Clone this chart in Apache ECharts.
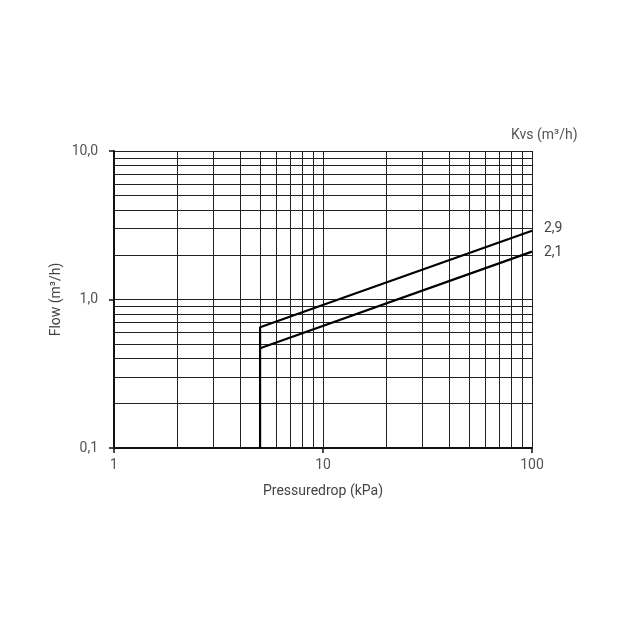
<!DOCTYPE html>
<html><head><meta charset="utf-8">
<script src="https://cdn.jsdelivr.net/npm/echarts@6/dist/echarts.min.js"></script>
<style>html,body{margin:0;padding:0;background:#fff}#c{width:640px;height:640px}</style>
</head><body><div id="c"></div>
<script>
const xMinorGrid = [2,3,4,5,6,7,8,9,20,30,40,50,60,70,80,90];
const yMinorGrid = [0.2,0.3,0.4,0.5,0.6,0.7,0.8,0.9,2,3,4,5,6,7,8,9];
const kvs29 = [[5,0.1],[5,0.65],[100,2.9]];
const kvs21 = [[5,0.47],[100,2.1]];
const seriesNames = ['2,9','2,1'];
const yTickLabels = {0.1:'0,1',1:'1,0',10:'10,0'};

const font = 'Roboto, "DejaVu Sans", sans-serif';
const gridColor = '#222';
const chart = echarts.init(document.getElementById('c'));
chart.setOption({
  animation:false,
  backgroundColor:'#fff',
  title:{text:'Kvs (m³/h)', left:506, top:123,
    textStyle:{fontFamily:font, fontSize:14, fontWeight:'normal', color:'#555'}},
  grid:{left:114,right:108,top:151,bottom:192,containLabel:false},
  xAxis:{type:'log', logBase:10, min:1, max:100,
    name:'Pressuredrop (kPa)', nameLocation:'middle', nameGap:36,
    nameTextStyle:{fontFamily:font, fontSize:14, color:'#444'},
    axisLine:{show:true, onZero:false, lineStyle:{color:'#111', width:2}},
    axisTick:{show:true, length:5, lineStyle:{color:'#111', width:1.5}},
    axisLabel:{fontFamily:font, fontSize:14, color:'#555', margin:10},
    splitLine:{show:true, lineStyle:{color:gridColor, width:1}}},
  yAxis:{type:'log', logBase:10, min:0.1, max:10,
    name:'Flow (m³/h)', nameLocation:'middle', nameGap:51, nameRotate:90, nameMoveOverlap:false,
    nameTextStyle:{fontFamily:font, fontSize:14, color:'#444'},
    axisLine:{show:true, onZero:false, lineStyle:{color:'#111', width:2}},
    axisTick:{show:true, length:5, lineStyle:{color:'#111', width:1.5}},
    axisLabel:{fontFamily:font, fontSize:14, color:'#555', margin:16,
      formatter:v=>yTickLabels[v] || String(v).replace('.',',')},
    splitLine:{show:true, lineStyle:{color:gridColor, width:1}}},
  series:[
    {type:'line', name:seriesNames[0], data:kvs29, symbol:'none', z:5,
     lineStyle:{color:'#000', width:2.2},
     endLabel:{show:true, formatter:seriesNames[0], fontFamily:font, fontSize:14, color:'#444', offset:[4,-2]},
     markLine:{silent:true, symbol:'none', label:{show:false}, animation:false,
       lineStyle:{color:gridColor, width:1, type:'solid'},
       data:[...xMinorGrid.map(v=>({xAxis:v})), ...yMinorGrid.map(v=>({yAxis:v}))]}},
    {type:'line', name:seriesNames[1], data:kvs21, symbol:'none', z:5,
     lineStyle:{color:'#000', width:2.2},
     endLabel:{show:true, formatter:seriesNames[1], fontFamily:font, fontSize:14, color:'#444', offset:[4,1]}}
  ]
});
</script></body></html>
